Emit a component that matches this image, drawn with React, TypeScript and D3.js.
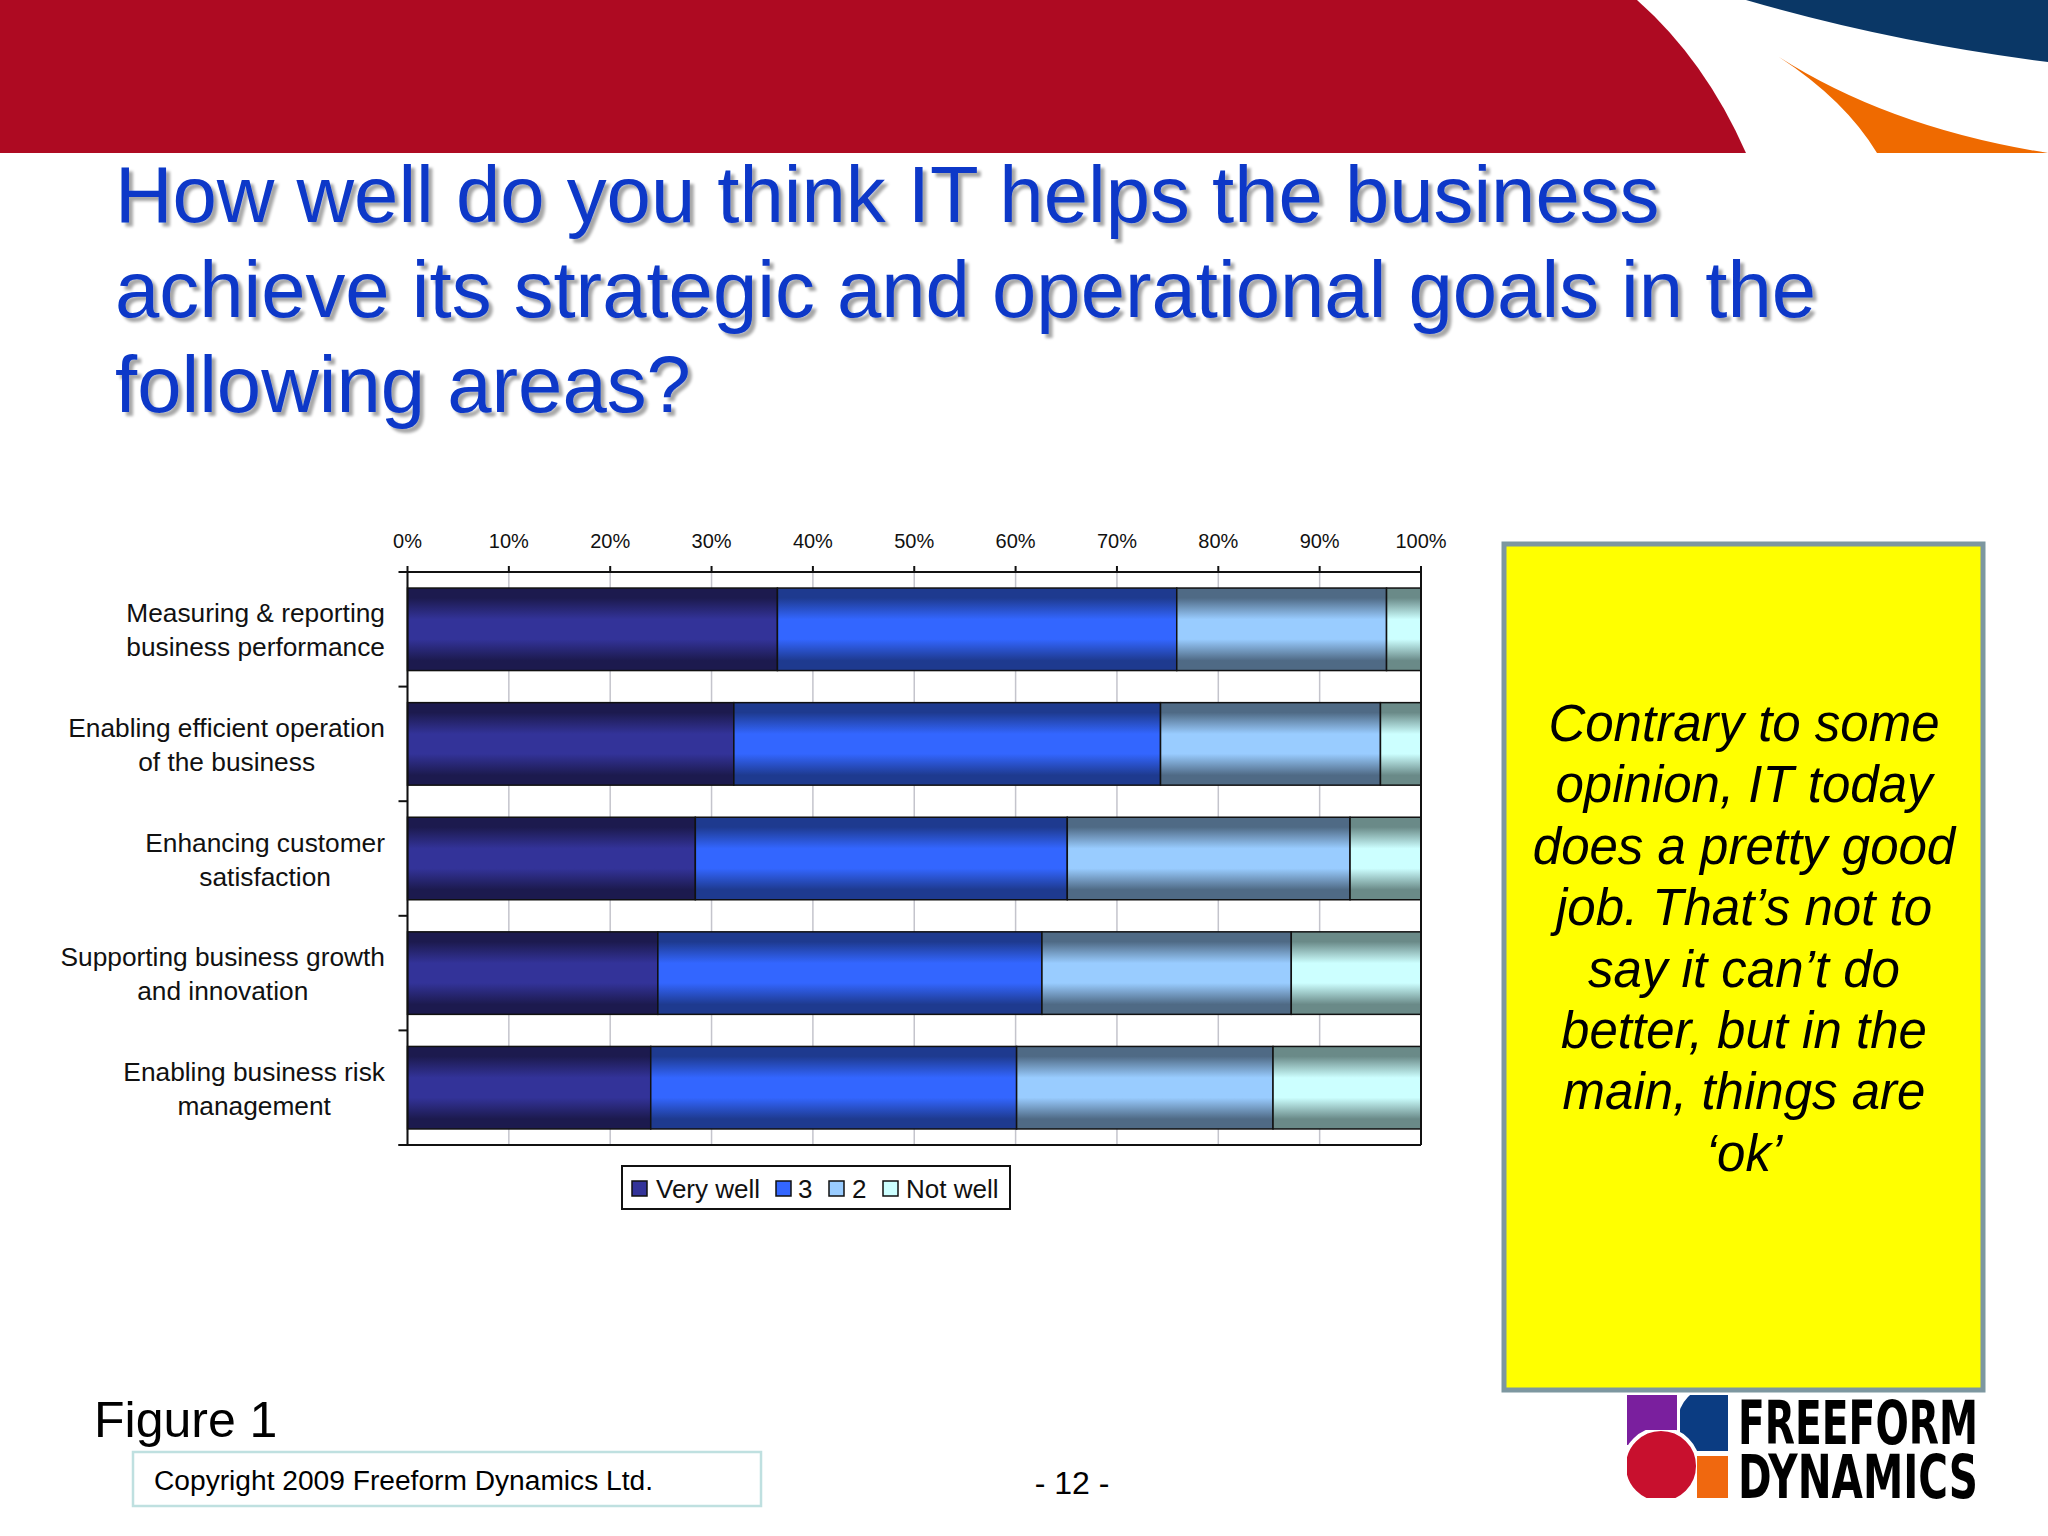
import React from "react";
import * as d3 from "d3";

const categories: string[][] = [
  ["Measuring & reporting", "business performance"],
  ["Enabling efficient operation", "of the business"],
  ["Enhancing customer", "satisfaction"],
  ["Supporting business growth", "and innovation"],
  ["Enabling business risk", "management"],
];
const seriesNames = ["Very well", "3", "2", "Not well"];
const veryWell = [36.5, 32.2, 28.4, 24.7, 24.0];
const three = [39.4, 42.1, 36.7, 37.9, 36.1];
const two = [20.7, 21.7, 27.9, 24.6, 25.3];
const notWell = [3.4, 4.0, 7.0, 12.8, 14.6];
const xTicks = [0, 10, 20, 30, 40, 50, 60, 70, 80, 90, 100];

const titleLines = [
  "How well do you think IT helps the business",
  "achieve its strategic and operational goals in the",
  "following areas?",
];
const noteLines = [
  "Contrary to some",
  "opinion, IT today",
  "does a pretty good",
  "job. That\u2019s not to",
  "say it can\u2019t do",
  "better, but in the",
  "main, things are",
  "\u2018ok\u2019",
];
const logoLines = ["FREEFORM", "DYNAMICS"];

const edgeColors = ["#1c1a4e", "#1e3a8f", "#4f6a85", "#6a8a88"];
const midColors = ["#333399", "#3366ff", "#99ccff", "#ccffff"];

const FONT = "'Liberation Sans', Arial, sans-serif";
const LABEL_SIZE = 26.3;

function measure(s: string, size: number): number {
  if (typeof document === "undefined") return s.length * size * 0.5;
  const c = document.createElement("canvas").getContext("2d");
  if (!c) return s.length * size * 0.5;
  c.font = `${size}px 'Liberation Sans', Arial, sans-serif`;
  return c.measureText(s).width;
}

export default function App() {
  const W = 2048;
  const H = 1536;
  const x = d3.scaleLinear().domain([0, 100]).range([407.5, 1421]);
  const keys = categories.map((_, i) => i);
  const y = d3
    .scaleBand<number>()
    .domain(keys)
    .range([572, 1145])
    .paddingInner(0.28)
    .paddingOuter(0.14);

  const rows = keys.map((i) => ({
    i,
    s0: veryWell[i],
    s1: three[i],
    s2: two[i],
    s3: notWell[i],
  }));
  const stack = d3.stack<any>().keys(["s0", "s1", "s2", "s3"])(rows);

  const plotTop = 572;
  const plotBottom = 1145;
  const step = y.step();
  const boundaries = d3.range(0, categories.length + 1).map((k) => plotTop + k * step);

  const legendItems = [
    { sw: 632, tx: 656 },
    { sw: 776, tx: 798 },
    { sw: 829, tx: 852 },
    { sw: 883, tx: 906 },
  ];

  const labelRight = 385;

  return (
    <svg
      width={W}
      height={H}
      viewBox={`0 0 ${W} ${H}`}
      style={{ position: "absolute", left: 0, top: 0, background: "#fff" }}
    >
      <defs>
        {midColors.map((c, k) => (
          <linearGradient key={k} id={`g${k}`} x1="0" y1="0" x2="0" y2="1">
            <stop offset="0" stopColor={edgeColors[k]} />
            <stop offset="0.12" stopColor={edgeColors[k]} />
            <stop offset="0.38" stopColor={c} />
            <stop offset="0.62" stopColor={c} />
            <stop offset="0.88" stopColor={edgeColors[k]} />
            <stop offset="1" stopColor={edgeColors[k]} />
          </linearGradient>
        ))}
        <filter id="shadow" x="-5%" y="-20%" width="110%" height="140%">
          <feGaussianBlur in="SourceAlpha" stdDeviation="1.5" />
          <feOffset dx="4" dy="4" result="b" />
          <feComponentTransfer>
            <feFuncA type="linear" slope="0.35" />
          </feComponentTransfer>
          <feMerge>
            <feMergeNode />
            <feMergeNode in="SourceGraphic" />
          </feMerge>
        </filter>
        <clipPath id="blueClip">
          <rect x={1680} y={1395} width={48} height={56} />
        </clipPath>
        <clipPath id="redClip">
          <rect x={1627} y={1430} width={70} height={68} />
        </clipPath>
      </defs>

      <rect x={0} y={0} width={W} height={H} fill="#fff" />

      {/* header band */}
      <path d="M0,0 L1637,0 Q1705,60 1746,153 L0,153 Z" fill="#ae0a22" />
      <path d="M1746,0 L2048,0 L2048,62 Q1890,42 1746,0 Z" fill="#0a3766" />
      <path d="M1779,57 Q1890,128 2048,153 L1877,153 Q1845,100 1779,57 Z" fill="#ef6a00" />

      {/* title */}
      <g filter="url(#shadow)">
        {titleLines.map((t, k) => (
          <text
            key={k}
            x={115}
            y={222 + k * 95}
            fontFamily={FONT}
            fontSize={79.7}
            fill="#0a37c8"
          >
            {t}
          </text>
        ))}
      </g>

      {/* gridlines */}
      {xTicks.map((t) => (
        <line
          key={`gl${t}`}
          x1={x(t)}
          x2={x(t)}
          y1={plotTop}
          y2={plotBottom}
          stroke="#c4c4cc"
          strokeWidth={1.5}
        />
      ))}

      {/* bars */}
      {stack.map((layer, k) => (
        <g key={k}>
          {layer.map((d: any, i: number) => (
            <rect
              key={i}
              x={x(d[0])}
              y={y(i)!}
              width={x(d[1]) - x(d[0])}
              height={y.bandwidth()}
              fill={`url(#g${k})`}
              stroke="#111"
              strokeWidth={1.5}
            />
          ))}
        </g>
      ))}

      {/* axes frame */}
      <line x1={x(0)} x2={x(100)} y1={plotTop} y2={plotTop} stroke="#111" strokeWidth={2} />
      {xTicks.map((t) => (
        <line key={`tk${t}`} x1={x(t)} x2={x(t)} y1={plotTop - 6} y2={plotTop} stroke="#111" strokeWidth={2} />
      ))}
      <line x1={x(0)} x2={x(0)} y1={plotTop} y2={plotBottom} stroke="#111" strokeWidth={2} />
      <line x1={x(100)} x2={x(100)} y1={plotTop} y2={plotBottom} stroke="#111" strokeWidth={2} />
      <line x1={x(0) - 9} x2={x(100)} y1={plotBottom} y2={plotBottom} stroke="#111" strokeWidth={2} />
      {boundaries.map((b, k) => (
        <line key={`yt${k}`} x1={x(0) - 9} x2={x(0)} y1={b} y2={b} stroke="#111" strokeWidth={2} />
      ))}

      {/* tick labels */}
      {xTicks.map((t) => (
        <text
          key={`tl${t}`}
          x={x(t)}
          y={548}
          textAnchor="middle"
          fontFamily={FONT}
          fontSize={20}
          fill="#111"
        >
          {`${t}%`}
        </text>
      ))}

      {/* category labels (centred block, right-aligned to axis) */}
      {categories.map((lines, i) => {
        const cy = y(i)! + y.bandwidth() / 2;
        const maxW = Math.max(...lines.map((l) => measure(l, LABEL_SIZE)));
        const cx = labelRight - maxW / 2;
        return (
          <text
            key={`cl${i}`}
            textAnchor="middle"
            fontFamily={FONT}
            fontSize={LABEL_SIZE}
            fill="#111"
          >
            {lines.map((ln, j) => (
              <tspan key={j} x={cx} y={cy + 10 + (j - 0.5) * 34}>
                {ln}
              </tspan>
            ))}
          </text>
        );
      })}

      {/* legend */}
      <rect x={622} y={1166} width={388} height={43} fill="#fff" stroke="#111" strokeWidth={2} />
      {seriesNames.map((n, k) => (
        <g key={`lg${k}`}>
          <rect
            x={legendItems[k].sw}
            y={1181}
            width={15}
            height={15}
            fill={midColors[k]}
            stroke="#111"
            strokeWidth={1.5}
          />
          <text x={legendItems[k].tx} y={1198} fontFamily={FONT} fontSize={26} fill="#111">
            {n}
          </text>
        </g>
      ))}

      {/* note box */}
      <rect x={1504} y={544} width={479} height={846} fill="#ffff00" stroke="#7d97a0" strokeWidth={5} />
      {noteLines.map((t, k) => (
        <text
          key={`n${k}`}
          x={1744}
          y={741 + k * 61.4}
          textAnchor="middle"
          fontFamily={FONT}
          fontStyle="italic"
          fontSize={51}
          fill="#000"
        >
          {t}
        </text>
      ))}

      {/* footer */}
      <text x={94} y={1437} fontFamily={FONT} fontSize={50} fill="#000">
        Figure 1
      </text>
      <rect x={133} y={1452} width={628} height={54} fill="#fff" stroke="#bfe0e0" strokeWidth={2.5} />
      <text x={154} y={1490} fontFamily={FONT} fontSize={27} fill="#000" textLength={499} lengthAdjust="spacingAndGlyphs">
        Copyright 2009 Freeform Dynamics Ltd.
      </text>
      <text x={1072} y={1494} textAnchor="middle" fontFamily={FONT} fontSize={32} fill="#000">
        - 12 -
      </text>

      {/* logo */}
      <rect x={1627} y={1395} width={50} height={50} fill="#7a1f9e" />
      <rect x={1697} y={1456} width={31} height={42} fill="#f0680f" />
      <g clipPath="url(#blueClip)">
        <circle cx={1712} cy={1421} r={34} fill="#0b3c82" />
      </g>
      <g clipPath="url(#redClip)">
        <circle cx={1661} cy={1466} r={37} fill="#c8102e" stroke="#fff" strokeWidth={4} />
      </g>
      <text
        fontFamily="'Liberation Sans Narrow', 'DejaVu Sans Condensed', sans-serif"
        fontWeight="bold"
        fontSize={60}
        fill="#000"
      >
        <tspan x={1738} y={1444} textLength={240} lengthAdjust="spacingAndGlyphs">
          {logoLines[0]}
        </tspan>
        <tspan x={1738} y={1498} textLength={240} lengthAdjust="spacingAndGlyphs">
          {logoLines[1]}
        </tspan>
      </text>
    </svg>
  );
}
